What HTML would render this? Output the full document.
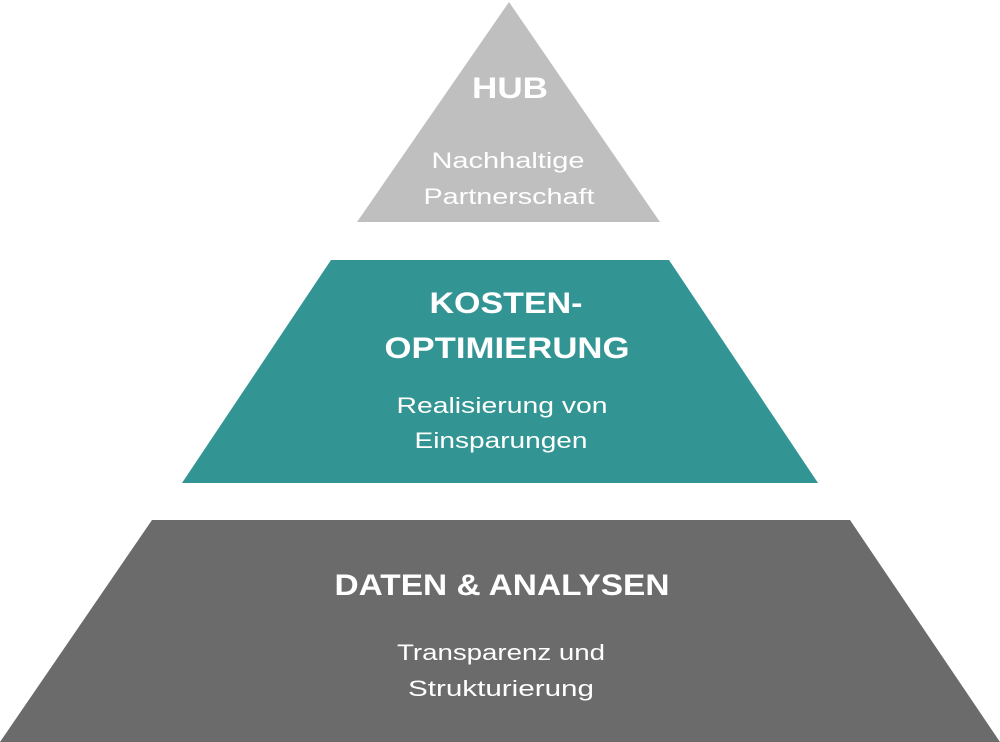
<!DOCTYPE html>
<html><head><meta charset="utf-8"><style>html,body{margin:0;padding:0;background:#fff}svg{display:block}</style></head><body>
<svg width="1000" height="742" viewBox="0 0 1000 742" xmlns="http://www.w3.org/2000/svg" font-family="Liberation Sans, sans-serif" fill="#fff" text-anchor="middle">
<polygon points="509,2 660,222 357,222" fill="#bfbfbf"/>
<polygon points="331,260 669,260 818,483 182,483" fill="#339593"/>
<polygon points="152,520 850,520 1000,742 0,742" fill="#6b6b6b"/>
<text x="510" y="98" font-size="30" font-weight="bold" textLength="76" lengthAdjust="spacingAndGlyphs">HUB</text>
<text x="508" y="168" font-size="22" textLength="153" lengthAdjust="spacingAndGlyphs">Nachhaltige</text>
<text x="509" y="204" font-size="22" textLength="171" lengthAdjust="spacingAndGlyphs">Partnerschaft</text>
<text x="506" y="313" font-size="30" font-weight="bold" textLength="153" lengthAdjust="spacingAndGlyphs">KOSTEN-</text>
<text x="507" y="358" font-size="30" font-weight="bold" textLength="245" lengthAdjust="spacingAndGlyphs">OPTIMIERUNG</text>
<text x="502" y="413" font-size="22" textLength="211" lengthAdjust="spacingAndGlyphs">Realisierung von</text>
<text x="501" y="448" font-size="22" textLength="173" lengthAdjust="spacingAndGlyphs">Einsparungen</text>
<text x="502" y="595" font-size="30" font-weight="bold" textLength="335" lengthAdjust="spacingAndGlyphs">DATEN &amp; ANALYSEN</text>
<text x="501" y="660" font-size="22" textLength="208" lengthAdjust="spacingAndGlyphs">Transparenz und</text>
<text x="501" y="696" font-size="22" textLength="186" lengthAdjust="spacingAndGlyphs">Strukturierung</text>
</svg>
</body></html>
